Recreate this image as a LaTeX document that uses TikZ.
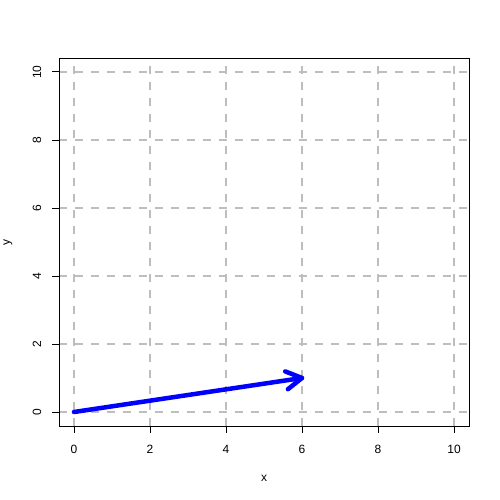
\documentclass[tikz,border=0pt]{standalone}
\usepackage{fontspec}
\setmainfont{Liberation Sans}
\usetikzlibrary{calc}
\tikzset{
  gridline/.style={draw={rgb,255:red,190;green,190;blue,190}, line width=2pt, dash pattern=on 8pt off 8pt},
  frame/.style={draw=black, line width=1pt},
  tickmark/.style={draw=black, line width=1pt},
  ticklabel/.style={font=\fontsize{12pt}{14pt}\selectfont, inner sep=0pt},
  vec/.style={draw=blue, line width=4.5pt, line cap=round, line join=round}
}
\begin{document}
\begin{tikzpicture}[x=1pt,y=-1pt]
\useasboundingbox (0,0) rectangle (500,500);
\fill[white] (0,0) rectangle (500,500);
% grid
\foreach \i in {0,2,...,10}{
  \pgfmathsetmacro{\px}{74+38*\i}
  \pgfmathsetmacro{\py}{412-34*\i}
  \draw[gridline] (\px,426) -- (\px,59);
  \draw[gridline] (59,\py) -- (469,\py);
}
% frame
\draw[frame] (59,59) rectangle (469,426);
% ticks and labels
\foreach \i in {0,2,...,10}{
  \pgfmathsetmacro{\px}{74+38*\i}
  \pgfmathsetmacro{\py}{412-34*\i}
  \draw[tickmark] (\px,426) -- (\px,433);
  \node[ticklabel] (xl\i) at (\px,449) {\i};
  \draw[tickmark] (59,\py) -- (52,\py);
  \node[ticklabel, rotate=90] (yl\i) at (37,\py) {\i};
}
\node[ticklabel] (xlab) at (264,478) {x};
\node[ticklabel, rotate=90] (ylab) at (8,242) {y};
% vector
\coordinate (o) at (74,412);
\coordinate (tip) at (302,378);
\coordinate (h1) at ($(tip)!18pt!30:(o)$);
\coordinate (h2) at ($(tip)!18pt!-30:(o)$);
\draw[vec] (o) -- (tip);
\draw[vec] (h1) -- (tip) -- (h2);
\end{tikzpicture}
\end{document}
